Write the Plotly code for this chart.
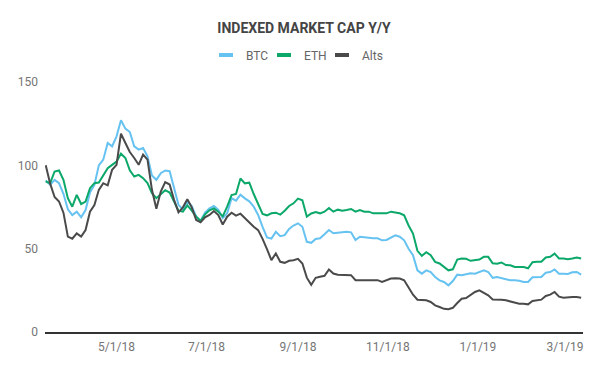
import pandas as pd
import plotly.graph_objects as go

# Sampled every 3 days starting 2018-03-14
start_date = "2018-03-14"
step = "3D"

btc = [91, 88.3, 91.3, 89.3, 82.9, 73.6, 70.2, 72.2, 68.8, 73.2, 83.7, 88.3, 100, 103.4, 113.4, 111.4, 117.4, 127, 122, 120,
       111.4, 109.4, 110.4, 105.4, 93.9, 91.3, 95.3, 96.9, 96.5, 86.3, 76.3, 73.6, 78.3, 75.6, 69.2, 66.8, 71.6, 74.2, 75.6, 73.2,
       68.4, 71.2, 80.2, 78.8, 82.4, 80.2, 78.4, 75.2, 70.2, 63.1, 56.7, 56.1, 60.1, 57.5, 58.1, 61.9, 63.9, 65.2, 63.1, 54.1,
       53.5, 55.8, 56.2, 58.6, 61.2, 59.2, 59.6, 59.6, 60.2, 59.8, 55.2, 57.2, 56.8, 56.2, 56.2, 56.2, 55.0, 55.2, 56.8, 58.0, 57.2,
       55, 49.9, 46.1, 37.0, 35.0, 37.0, 36.0, 33.0, 31.0, 30.0, 28.0, 30.6, 34.4, 34.0, 34.6, 35.2, 35.0, 36.0, 37.0, 36.0,
       32.5, 33.0, 32.4, 31.4, 31.0, 31.0, 30.8, 30.0, 30.0, 32.8, 33.0, 33.0, 35.6, 36.0, 37.5, 35.0, 35.0, 34.8, 35.8, 36.0, 34.4]

eth = [90.3, 89.3, 96.3, 96.9, 91.3, 80.3, 75.2, 82.3, 76.8, 78.3, 86.3, 89.3, 89.7, 94.3, 98.3, 100.3, 102.3, 107, 104.4, 97,
       93.3, 94.3, 92.3, 89.3, 83.3, 80.3, 82.9, 85.1, 83.7, 78.3, 72.8, 72.2, 76.0, 72.8, 69.2, 66.6, 70.6, 73.0, 74.2, 72.2,
       69.4, 75.2, 82.2, 82.8, 92.1, 89.2, 89.6, 82.8, 77.2, 70.8, 70.0, 71.2, 71.6, 70.4, 72.8, 75.6, 77.2, 80.0, 79.0, 69.2,
       71.1, 72.0, 71.2, 72.2, 74.4, 72.2, 73.4, 72.8, 73.2, 73.8, 72.2, 73.2, 72.2, 72.2, 71.2, 71.2, 71.0, 71.2, 72.2, 71.6, 71.2,
       70, 63.9, 59.1, 48.7, 45.7, 47.9, 46.1, 42.1, 41.1, 39.0, 37.0, 37.6, 43.5, 44.1, 43.9, 42.7, 43.1, 43.5, 45.1, 45.1,
       41.2, 41.0, 41.7, 40.2, 40.0, 39.0, 39.0, 39.0, 38.2, 41.9, 42.1, 42.1, 44.7, 45.1, 47, 44.1, 44.1, 43.7, 44.1, 44.7, 44.1]

alts = [100, 89, 81, 78.3, 71.6, 57.2, 56, 59.2, 57.2, 61.2, 72.2, 76.2, 85.3, 89.3, 88, 97.3, 100.3, 119, 113.4, 108,
        104.4, 100.3, 106.4, 103.4, 85.3, 74, 84.3, 89.9, 88.5, 79.3, 71.8, 74.8, 79.7, 74.8, 67.2, 65.8, 68.8, 70.2, 72.6, 70.2,
        64.5, 69.2, 71.6, 69.8, 71.0, 68.2, 65.5, 63.1, 61.1, 55.9, 49.7, 43.1, 47.1, 42.1, 41.5, 42.7, 43.1, 43.9, 41.1, 32.6,
        28.3, 32.5, 33.1, 33.7, 37.5, 35.1, 34.3, 34.3, 34.3, 34.1, 31.1, 31.1, 31.3, 31.1, 31.1, 31.1, 30.1, 31.1, 32.1, 32.3, 32.1,
        31.0, 27.0, 22.4, 19.4, 19.0, 19.0, 18.0, 16.0, 15.0, 13.9, 13.7, 14.5, 17.4, 20.0, 20.4, 22.0, 24.0, 25.0, 23.6, 22.0,
        19.5, 19.6, 19.4, 19.0, 18.2, 17.8, 17.0, 17.0, 16.6, 18.6, 19.0, 19.4, 21.6, 22.4, 24, 21.2, 20.6, 21.0, 21.0, 21.0, 20.6]

dates = pd.date_range(start_date, periods=len(btc), freq=step)

tick_dates = ["2018-05-01", "2018-07-01", "2018-09-01", "2018-11-01", "2019-01-01", "2019-03-01"]
tick_labels = ["5/1/18", "7/1/18", "9/1/18", "11/1/18", "1/1/19", "3/1/19"]
y_ticks = [0, 50, 100, 150]

series = [("BTC", btc, "#66C2F0"), ("ETH", eth, "#0BA86A"), ("Alts", alts, "#4A4A4A")]
legend_ids = ["legend", "legend2", "legend3"]
legend_lefts = [198, 256, 314]  # px from the figure's left edge

# The page body has an 8px default margin, so the figure is sized to fit the window.
W, H = 592, 363

fig = go.Figure()
for name, vals, color in series:
    fig.add_trace(go.Scatter(x=dates, y=vals, name=name, mode="lines",
                             line=dict(color=color, width=2), showlegend=False))
for (name, vals, color), lid in zip(series, legend_ids):
    fig.add_trace(go.Scatter(x=[None], y=[None], name=name, mode="markers",
                             marker=dict(symbol="line-ew", size=10, color=color,
                                         line=dict(color=color, width=4)),
                             showlegend=True, legend=lid))

legend_style = dict(orientation="h", xanchor="left", y=1 - 47 / H, yanchor="middle",
                    xref="container", yref="container", font=dict(size=12, color="#666666"),
                    itemwidth=30, bgcolor="rgba(0,0,0,0)")

fig.update_layout(
    width=W, height=H,
    margin=dict(l=37, r=17, t=74, b=39, autoexpand=False),
    paper_bgcolor="white", plot_bgcolor="white",
    font=dict(family="Roboto", size=12, color="#757575"),
    title=dict(text="<b>INDEXED MARKET CAP Y/Y</b>", x=0.5, xanchor="center",
               y=1 - 20 / H, yanchor="middle", yref="container",
               font=dict(family="Roboto", size=14, color="#444444")),
    **{lid: dict(legend_style, x=lx / W) for lid, lx in zip(legend_ids, legend_lefts)},
)
fig.update_xaxes(range=["2018-03-13 12:00", "2019-03-13 06:00"], tickvals=tick_dates, ticktext=tick_labels,
                 showgrid=False, showline=True, linecolor="#333333", linewidth=1.5,
                 ticks="", tickfont=dict(size=12, color="#757575"), automargin=False,
                 ticklabelstandoff=3)
fig.update_yaxes(range=[0, 150], tickvals=y_ticks, showgrid=False, zeroline=False,
                 showline=False, ticks="", tickfont=dict(size=12, color="#757575"), automargin=False,
                 ticklabelstandoff=6)

fig.write_html("out.html")
